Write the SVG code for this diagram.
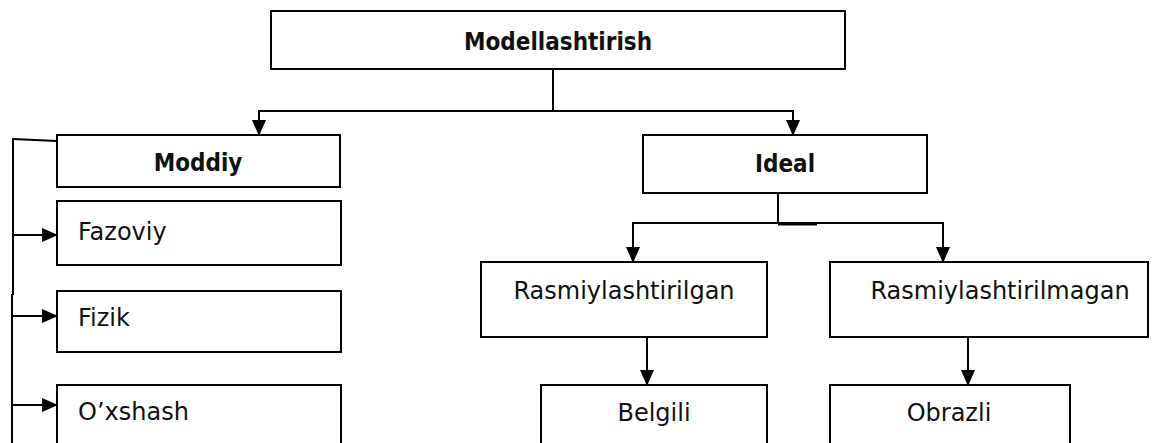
<svg xmlns="http://www.w3.org/2000/svg" width="1156" height="443" viewBox="0 0 1156 443">
<style>
.box{fill:#fff;stroke:#000;stroke-width:2}
.ln{fill:none;stroke:#000;stroke-width:2}
.t{font-family:"DejaVu Sans",Verdana,sans-serif;font-size:24px;fill:#111}
.b{font-family:"DejaVu Sans Condensed","DejaVu Sans",sans-serif;font-stretch:condensed;font-weight:bold;font-size:24px;fill:#111}
.c{text-anchor:middle}
</style>
<defs>
<marker id="ah" markerUnits="userSpaceOnUse" markerWidth="16" markerHeight="14" viewBox="0 0 16 14" refX="15" refY="7" orient="auto">
<path d="M0,0 L16,7 L0,14 Z" fill="#000"/>
</marker>
</defs>
<rect width="1156" height="443" fill="#fff"/>
<g id="connectors">
<line class="ln" x1="553" y1="69" x2="553" y2="111"/>
<line class="ln" x1="258" y1="111" x2="794" y2="111"/>
<line class="ln" x1="259" y1="110" x2="259" y2="135" marker-end="url(#ah)"/>
<line class="ln" x1="793" y1="110" x2="793" y2="135" marker-end="url(#ah)"/>
<line class="ln" x1="13" y1="139" x2="57" y2="141"/>
<line class="ln" x1="13" y1="138" x2="13" y2="295"/>
<line class="ln" x1="12" y1="294" x2="12" y2="443"/>
<line class="ln" x1="13" y1="235" x2="57" y2="235" marker-end="url(#ah)"/>
<line class="ln" x1="13" y1="316" x2="57" y2="316" marker-end="url(#ah)"/>
<line class="ln" x1="13" y1="405" x2="57" y2="405" marker-end="url(#ah)"/>
<line class="ln" x1="778" y1="193" x2="778" y2="223"/>
<line class="ln" x1="632" y1="223" x2="944" y2="223"/>
<line class="ln" x1="778" y1="224.5" x2="817" y2="224.5"/>
<line class="ln" x1="633" y1="222" x2="633" y2="262" marker-end="url(#ah)"/>
<line class="ln" x1="943" y1="222" x2="943" y2="262" marker-end="url(#ah)"/>
<line class="ln" x1="647" y1="337" x2="647" y2="385" marker-end="url(#ah)"/>
<line class="ln" x1="968" y1="337" x2="968" y2="385" marker-end="url(#ah)"/>
</g>
<g id="node-modellashtirish">
<rect class="box" x="271" y="11" width="574" height="58"/>
<text class="b c" x="558" y="50">Modellashtirish</text>
</g>
<g id="node-moddiy">
<rect class="box" x="57" y="135" width="283" height="52"/>
<text class="b c" x="198" y="171">Moddiy</text>
</g>
<g id="node-fazoviy">
<rect class="box" x="57" y="201" width="284" height="64"/>
<text class="t" x="78" y="240">Fazoviy</text>
</g>
<g id="node-fizik">
<rect class="box" x="57" y="291" width="284" height="61"/>
<text class="t" x="78" y="326">Fizik</text>
</g>
<g id="node-oxshash">
<rect class="box" x="57" y="385" width="284" height="80"/>
<text class="t" x="78" y="420">O’xshash</text>
</g>
<g id="node-ideal">
<rect class="box" x="643" y="135" width="284" height="58"/>
<text class="b c" x="785" y="172">Ideal</text>
</g>
<g id="node-rasmiylashtirilgan">
<rect class="box" x="481" y="262" width="286" height="75"/>
<text class="t c" x="624" y="299">Rasmiylashtirilgan</text>
</g>
<g id="node-rasmiylashtirilmagan">
<rect class="box" x="830" y="262" width="318" height="75"/>
<text class="t c" x="1000" y="299">Rasmiylashtirilmagan</text>
</g>
<g id="node-belgili">
<rect class="box" x="541" y="385" width="226" height="80"/>
<text class="t c" x="654" y="421">Belgili</text>
</g>
<g id="node-obrazli">
<rect class="box" x="830" y="385" width="240" height="80"/>
<text class="t c" x="949" y="421">Obrazli</text>
</g>
</svg>
